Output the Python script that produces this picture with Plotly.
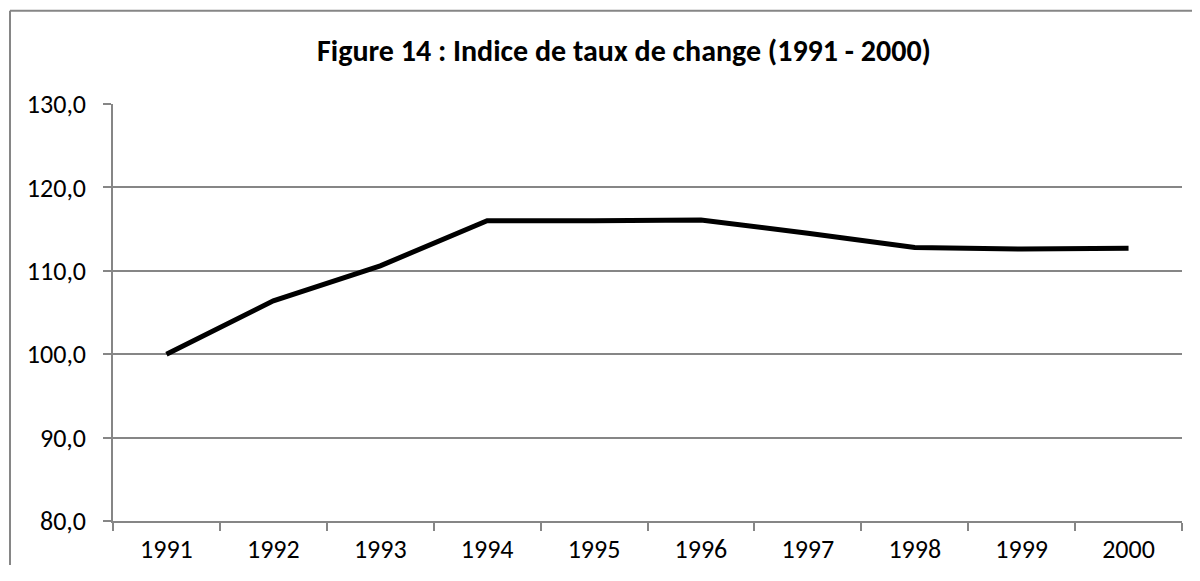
import plotly.graph_objects as go

years = ["1991", "1992", "1993", "1994", "1995", "1996", "1997", "1998", "1999", "2000"]
indice = [100.0, 106.4, 110.6, 116.0, 116.0, 116.1, 114.5, 112.8, 112.6, 112.7]
y_ticks = [80, 90, 100, 110, 120, 130]
y_tick_labels = ["80,0", "90,0", "100,0", "110,0", "120,0", "130,0"]
title_text = "<b>Figure 14 : Indice de taux de change (1991 - 2000)</b>"

OFF = 8  # default body margin of the html page
W, H = 1200 - 2 * OFF, 581 - 2 * OFF - 8
L, R, T, B = 113 - OFF, W - (1182 - OFF), 104 - OFF, H - (521 - OFF)
pw, ph = W - L - R, H - T - B
grey = "#868686"
font_family = "Carlito, Calibri, Lato, sans-serif"

fig = go.Figure()
fig.add_trace(go.Scatter(
    x=years, y=indice, mode="lines",
    line=dict(color="#000000", width=5, shape="linear"),
    showlegend=False, hoverinfo="x+y",
))

def px_x(px):
    return (px - OFF - L) / pw

def px_y(py):
    return (H - B - (py - OFF)) / ph

border = dict(color=grey, width=2)
fig.update_layout(
    width=W, height=H,
    margin=dict(l=L, r=R, t=T, b=B, autoexpand=False),
    paper_bgcolor="white", plot_bgcolor="white",
    font=dict(family=font_family, color="#000000", size=26),
    title=dict(text=title_text, font=dict(family=font_family, size=30, color="#000000"),
               x=(624 - OFF) / W, xanchor="center", xref="container",
               y=1 - (50 - OFF) / H, yanchor="middle", yref="container"),
    xaxis=dict(type="category", range=[-0.5, 9.5], showgrid=False, showline=True,
               linecolor=grey, linewidth=1.5,
               ticks="outside", tickson="boundaries", ticklen=8, tickcolor=grey, tickwidth=1.5,
               ticklabelstandoff=4, tickfont=dict(size=26), zeroline=False),
    yaxis=dict(range=[80, 130], tickvals=y_ticks, ticktext=y_tick_labels,
               showgrid=True, gridcolor=grey, gridwidth=1.5,
               showline=True, linecolor=grey, linewidth=1.5,
               ticks="outside", ticklen=8, tickcolor=grey, tickwidth=1.5,
               ticklabelstandoff=12, tickfont=dict(size=26), zeroline=False),
    shapes=[
        dict(type="line", xref="paper", yref="paper",
             x0=px_x(10), x1=px_x(10), y0=px_y(600), y1=px_y(10.7), line=border, layer="below"),
        dict(type="line", xref="paper", yref="paper",
             x0=px_x(10), x1=px_x(1210), y0=px_y(10.7), y1=px_y(10.7), line=border, layer="below"),
    ],
)

fig.write_html("out.html")
